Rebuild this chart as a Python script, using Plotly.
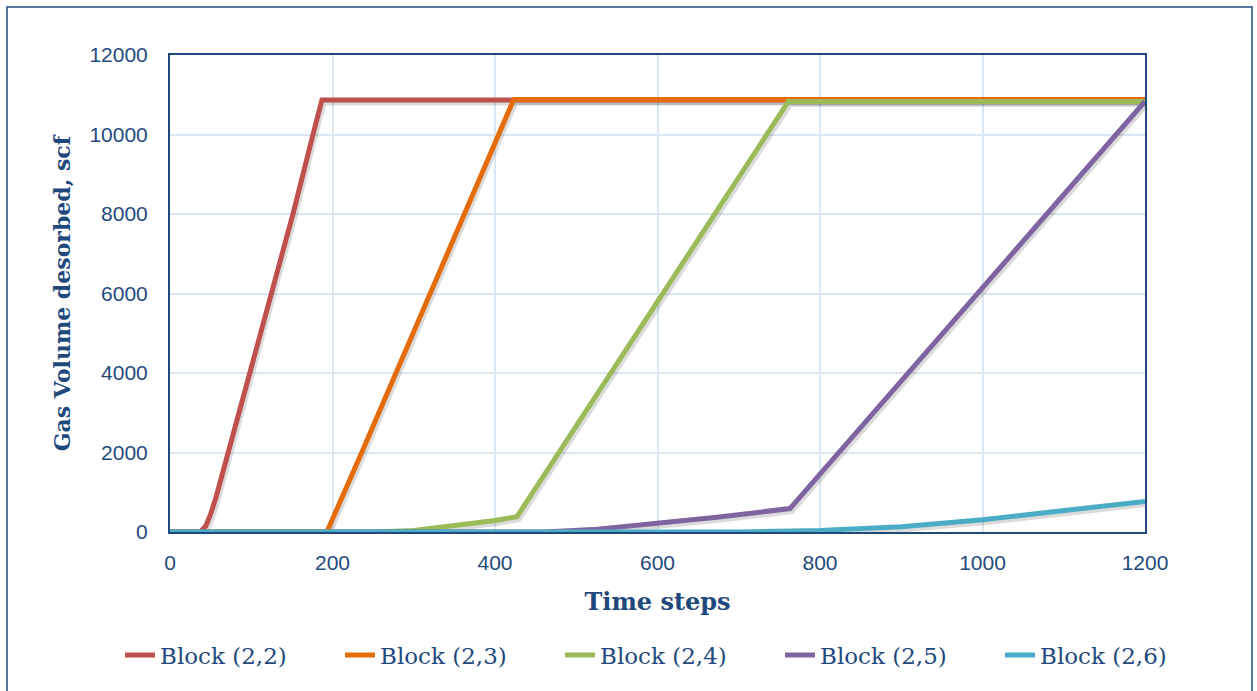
import plotly.graph_objects as go

# ---- data ----
series_names = ["Block (2,2)", "Block (2,3)", "Block (2,4)", "Block (2,5)", "Block (2,6)"]

t_22 = [0, 37, 44, 50, 57, 64, 71, 98, 125, 152, 176, 187, 1200]
v_22 = [0, 0, 150, 450, 900, 1420, 2000, 4000, 6050, 8050, 10000, 10870, 10870]

t_23 = [0, 193, 236, 278, 320, 362, 404, 423, 1200]
v_23 = [0, 0, 2000, 4000, 6000, 8000, 10000, 10880, 10880]

t_24 = [0, 250, 300, 350, 400, 427, 761, 1200]
v_24 = [0, 0, 40, 150, 290, 385, 10830, 10830]

t_25 = [0, 460, 520, 591, 673, 763, 1200]
v_25 = [0, 0, 60, 200, 370, 590, 10830]

t_26 = [0, 700, 800, 900, 1000, 1100, 1200]
v_26 = [0, 0, 40, 135, 310, 530, 770]

x_ticks = [0, 200, 400, 600, 800, 1000, 1200]
y_ticks = [0, 2000, 4000, 6000, 8000, 10000, 12000]

colors = ["#C0504D", "#E46C0A", "#9BBB59", "#8064A2", "#4BACC6"]
all_t = [t_22, t_23, t_24, t_25, t_26]
all_v = [v_22, v_23, v_24, v_25, v_26]

# ---- layout geometry ----
W, H = 1257, 691
L, R, T, B = 170, 112, 55, 159
pw, ph = W - L - R, H - T - B
XMAX, YMAX = 1200, 12000
sx, sy = pw / XMAX, ph / YMAX
dx_px, dy_px = 2.0, 3.0   # shadow offset

navy = "#1F497D"
grid = "#DCE6F2"

fig = go.Figure()

# shadows on the (hidden) base axes, offset a few pixels
for t, v in zip(all_t, all_v):
    fig.add_trace(go.Scatter(x=t, y=v, mode="lines", xaxis="x", yaxis="y",
                             line=dict(color="rgba(0,0,0,0.14)", width=5),
                             showlegend=False, hoverinfo="skip"))

# main series on the visible overlay axes
for name, t, v, c in zip(series_names, all_t, all_v, colors):
    fig.add_trace(go.Scatter(x=t, y=v, mode="lines", name=name, xaxis="x2", yaxis="y2",
                             line=dict(color=c, width=5)))

def px2paper_x(p):
    return (p - L) / pw

def py2paper_y(p):
    return (H - B - p) / ph

fig.update_layout(
    width=W, height=H,
    margin=dict(l=L, r=R, t=T, b=B, autoexpand=False),
    paper_bgcolor="white", plot_bgcolor="white",
    xaxis=dict(range=[-dx_px / sx, XMAX - dx_px / sx], visible=False, domain=[0, 1]),
    yaxis=dict(range=[dy_px / sy, YMAX + dy_px / sy], visible=False, domain=[0, 1]),
    xaxis2=dict(overlaying="x", anchor="y2", range=[0, XMAX], tickvals=x_ticks,
                ticktext=[str(v) for v in x_ticks],
                showgrid=True, gridcolor=grid, gridwidth=2, zeroline=False,
                showline=True, mirror=True, linecolor=navy, linewidth=2,
                ticks="outside", ticklen=11, tickcolor="rgba(0,0,0,0)",
                tickfont=dict(family="Liberation Sans", size=21, color=navy),
                title=dict(text="<b>Time steps</b>", standoff=20,
                           font=dict(family="DejaVu Serif", size=24, color=navy))),
    yaxis2=dict(overlaying="y", anchor="x2", side="left", range=[0, YMAX], tickvals=y_ticks,
                ticktext=[str(v) for v in y_ticks],
                showgrid=True, gridcolor=grid, gridwidth=2, zeroline=False,
                showline=True, mirror=True, linecolor=navy, linewidth=2,
                ticks="outside", ticklen=16, tickcolor="rgba(0,0,0,0)",
                tickfont=dict(family="Liberation Sans", size=21, color=navy),
                title=dict(text="<b>Gas Volume desorbed, scf</b>", standoff=13,
                           font=dict(family="DejaVu Serif", size=22, color=navy))),
    legend=dict(orientation="h", x=px2paper_x(120), xanchor="left",
                y=py2paper_y(655), yanchor="middle",
                entrywidth=175, entrywidthmode="pixels",
                font=dict(family="DejaVu Serif", size=23, color=navy),
                bgcolor="rgba(0,0,0,0)"),
    shapes=[dict(type="rect", xref="paper", yref="paper",
                 x0=px2paper_x(7), x1=px2paper_x(1252),
                 y0=py2paper_y(700), y1=py2paper_y(7),
                 line=dict(color=navy, width=1.5), fillcolor="rgba(0,0,0,0)",
                 layer="above")],
)

fig.write_html("out.html", config={"displayModeBar": False},
               post_script="document.body.style.margin='0';")
